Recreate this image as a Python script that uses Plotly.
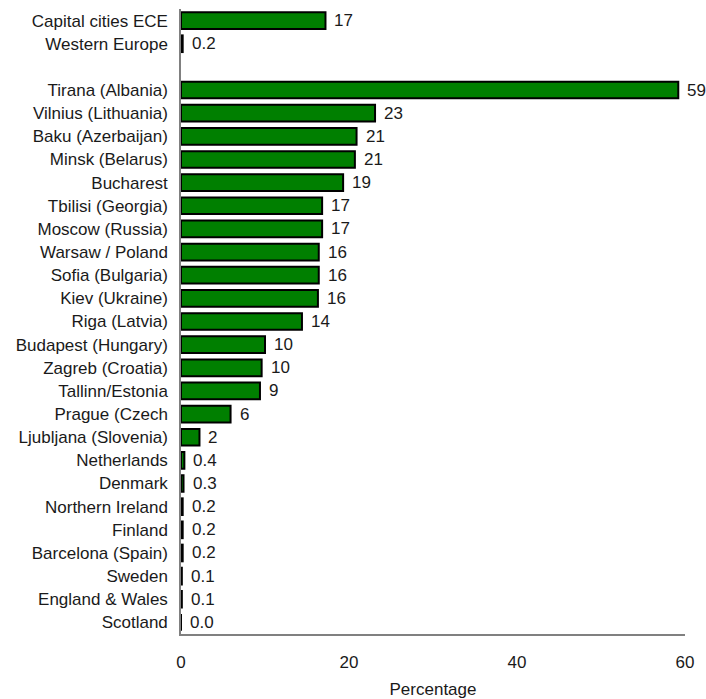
import plotly.graph_objects as go

# Row labels, top to bottom; " " is an empty spacer row
cities = [
    "Capital cities ECE", "Western Europe", " ",
    "Tirana (Albania)", "Vilnius (Lithuania)", "Baku (Azerbaijan)", "Minsk (Belarus)",
    "Bucharest", "Tbilisi (Georgia)", "Moscow (Russia)", "Warsaw / Poland",
    "Sofia (Bulgaria)", "Kiev (Ukraine)", "Riga (Latvia)", "Budapest (Hungary)",
    "Zagreb (Croatia)", "Tallinn/Estonia", "Prague (Czech", "Ljubljana (Slovenia)",
    "Netherlands", "Denmark", "Northern Ireland", "Finland", "Barcelona (Spain)",
    "Sweden", "England & Wales", "Scotland",
]

# Percentage per row (None for the spacer)
percentages = [
    17.2, 0.2, None,
    59.2, 23.1, 20.9, 20.7,
    19.3, 16.8, 16.8, 16.4,
    16.4, 16.3, 14.4, 10.0,
    9.6, 9.4, 5.9, 2.2,
    0.4, 0.3, 0.2, 0.2, 0.2,
    0.1, 0.1, 0.0,
]

x_ticks = [0, 20, 40, 60]

FONT = "Arial, Liberation Sans, sans-serif"
TEXT = "#1a1a1a"


def fmt(v):
    return f"{v:.0f}" if v >= 1 else f"{v:.1f}"


fig = go.Figure(
    go.Bar(
        x=percentages,
        y=cities,
        orientation="h",
        width=0.72,
        marker=dict(color="#007f00", line=dict(color="#000000", width=2)),
        hoverinfo="skip",
    )
)

# Value labels just beyond each bar end
for name, v in zip(cities, percentages):
    if v is None:
        continue
    fig.add_annotation(
        x=v, y=name, text=fmt(v), showarrow=False,
        xanchor="left", yanchor="middle", xshift=7,
        font=dict(family=FONT, size=17, color=TEXT),
    )

fig.update_layout(
    width=706, height=699,
    margin=dict(l=181, r=21, t=9, b=65),
    paper_bgcolor="white", plot_bgcolor="white",
    showlegend=False,
    font=dict(family=FONT, size=17, color=TEXT),
)

fig.update_xaxes(
    range=[0, 60], tickvals=x_ticks,
    showgrid=False, zeroline=False, automargin=False,
    showline=True, linecolor="#808080", linewidth=1.5,
    ticks="outside", ticklen=12, tickcolor="rgba(0,0,0,0)",
    tickfont=dict(family=FONT, size=17, color=TEXT),
    title=dict(text="Percentage", standoff=13,
               font=dict(family=FONT, size=17, color=TEXT)),
)

fig.update_yaxes(
    type="category", categoryorder="array", categoryarray=cities,
    range=[len(cities) - 0.5, -0.5],
    showgrid=False, zeroline=False, automargin=False,
    showline=True, linecolor="#808080", linewidth=1.5,
    ticks="outside", ticklen=8, tickcolor="rgba(0,0,0,0)",
    tickfont=dict(family=FONT, size=17, color=TEXT),
)

fig.write_html("out.html")
